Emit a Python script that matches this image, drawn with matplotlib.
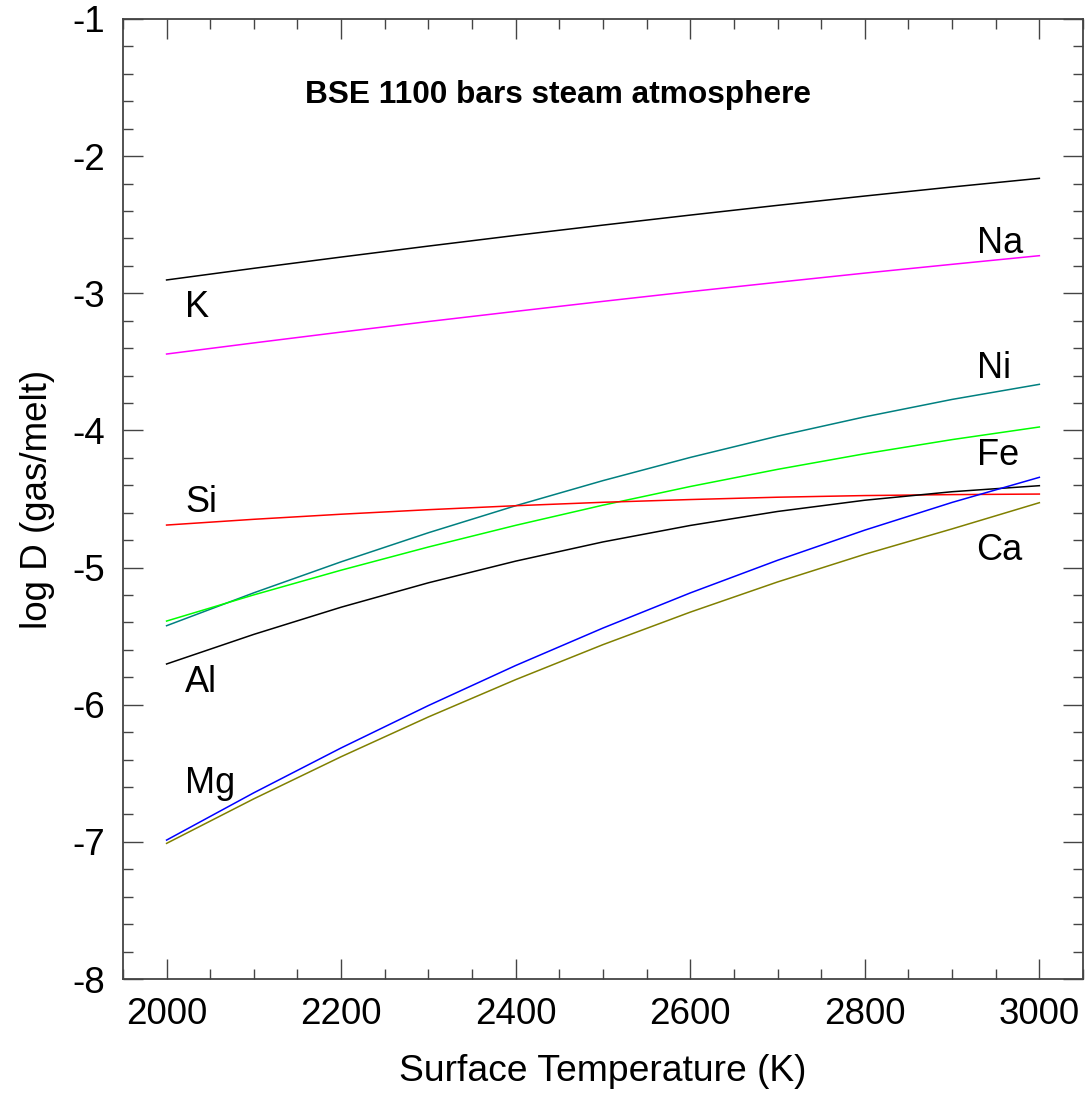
import numpy as np
import matplotlib
matplotlib.use("Agg")
import matplotlib.pyplot as plt
from matplotlib.ticker import MultipleLocator

plt.rcParams['font.family'] = ['Liberation Sans', 'DejaVu Sans']

# surface temperature grid (K)
temps = [2000, 2100, 2200, 2300, 2400, 2500, 2600, 2700, 2800, 2900, 3000]

# log D (gas/melt) for each element
logD_K = [-2.903, -2.818, -2.736, -2.656, -2.578, -2.503, -2.430, -2.359, -2.291, -2.225, -2.162]
logD_Na = [-3.443, -3.362, -3.283, -3.206, -3.132, -3.059, -2.988, -2.920, -2.853, -2.789, -2.726]
logD_Ni = [-5.424, -5.184, -4.958, -4.746, -4.549, -4.366, -4.197, -4.042, -3.901, -3.774, -3.664]
logD_Fe = [-5.390, -5.199, -5.019, -4.850, -4.692, -4.545, -4.409, -4.284, -4.170, -4.067, -3.975]
logD_Si = [-4.690, -4.648, -4.611, -4.578, -4.549, -4.524, -4.504, -4.487, -4.475, -4.468, -4.464]
logD_Al = [-5.703, -5.487, -5.289, -5.111, -4.953, -4.813, -4.693, -4.591, -4.509, -4.447, -4.403]
logD_Mg = [-6.987, -6.642, -6.315, -6.006, -5.714, -5.441, -5.185, -4.947, -4.727, -4.525, -4.342]
logD_Ca = [-7.011, -6.686, -6.379, -6.089, -5.817, -5.562, -5.325, -5.105, -4.903, -4.718, -4.527]

series = [
    (logD_K, 'black'),
    (logD_Na, '#ff00ff'),
    (logD_Ni, '#008080'),
    (logD_Fe, '#00ff00'),
    (logD_Si, '#ff0000'),
    (logD_Al, 'black'),
    (logD_Mg, '#0000ff'),
    (logD_Ca, '#808000'),
]

fig = plt.figure(figsize=(10.88, 11.09), dpi=100)
ax = fig.add_axes([0.113, 0.1172, 0.8824, 0.8657])

for vals, col in series:
    ax.plot(temps, vals, color=col, lw=1.1)

# element labels
lab_fs = 26
for name, x, y in [('K', 2021, -3.173), ('Si', 2021, -4.595), ('Al', 2021, -5.907),
                   ('Mg', 2021, -6.644), ('Na', 2928, -2.706), ('Ni', 2928, -3.618),
                   ('Fe', 2928, -4.252), ('Ca', 2928, -4.945)]:
    ax.text(x, y, name, fontsize=lab_fs, ha='left', va='baseline')

ax.text(2448, -1.6125, 'BSE 1100 bars steam atmosphere', fontsize=22.8,
        fontweight='bold', ha='center', va='baseline')

ax.set_xlim(1950, 3050)
ax.set_ylim(-8, -1)
ax.xaxis.set_major_locator(MultipleLocator(200))
ax.xaxis.set_minor_locator(MultipleLocator(50))
ax.yaxis.set_major_locator(MultipleLocator(1))
ax.yaxis.set_minor_locator(MultipleLocator(0.2))
ax.tick_params(which='both', direction='in', top=True, right=True,
               labelsize=26.5, color='#444444', width=1.0)
ax.tick_params(which='major', length=14.4, pad=13)
ax.tick_params(which='minor', length=7.2)
ax.set_yticks(np.arange(-8, 0, 1))
ax.set_yticklabels([str(v) for v in range(-8, 0)])
for sp in ax.spines.values():
    sp.set_color('#444444')
    sp.set_linewidth(1.3)

ax.set_xlabel('Surface Temperature (K)', fontsize=26.8, labelpad=16)
ax.set_ylabel('log D (gas/melt)', fontsize=26.5, labelpad=12)

fig.savefig('out.png', dpi=100)
